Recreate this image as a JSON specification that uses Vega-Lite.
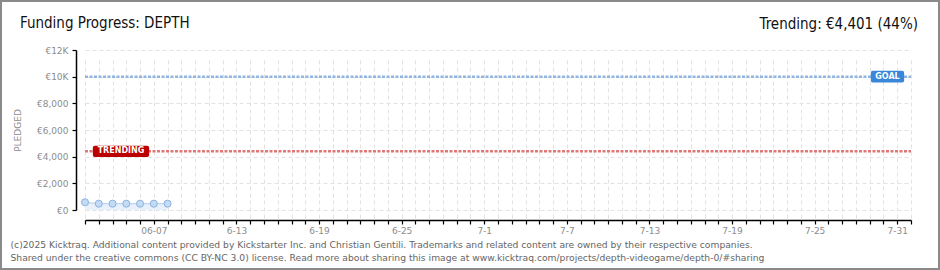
{
  "$schema": "https://vega.github.io/schema/vega-lite/v6.json",
  "width": 940,
  "height": 270,
  "autosize": {"type": "none"},
  "padding": 0,
  "background": "white",
  "config": {
    "view": {"stroke": "#8a8a8a", "strokeWidth": 4},
    "axis": {"labelFont": "DejaVu Sans", "titleFont": "DejaVu Sans"}
  },
  "title": {
    "text": "Funding Progress: DEPTH",
    "anchor": "start",
    "frame": "group",
    "orient": "top",
    "offset": -30,
    "dx": 20,
    "dy": 13,
    "font": "DejaVu Sans Condensed, Liberation Sans Narrow, DejaVu Sans",
    "fontSize": 15,
    "fontWeight": "normal",
    "color": "#111111",
    "baseline": "alphabetic"
  },
  "datasets": {
    "pledges": [
      {"date": "2025-06-02T00:00:00", "pledged": 580},
      {"date": "2025-06-03T00:00:00", "pledged": 475},
      {"date": "2025-06-04T00:00:00", "pledged": 475},
      {"date": "2025-06-05T00:00:00", "pledged": 475},
      {"date": "2025-06-06T00:00:00", "pledged": 475},
      {"date": "2025-06-07T00:00:00", "pledged": 475},
      {"date": "2025-06-08T00:00:00", "pledged": 475}
    ],
    "refs": [
      {"label": "GOAL", "value": 10000},
      {"label": "TRENDING", "value": 4401}
    ],
    "note": [
      {"text": "Trending:  €4,401 (44%)"}
    ]
  },
  "layer": [
    {
      "data": {"name": "pledges"},
      "mark": {"type": "area", "fill": "#e8f0fb", "opacity": 1},
      "encoding": {
        "x": {
          "field": "date",
          "type": "temporal",
          "scale": {
            "domain": [
              {"year": 2025, "month": 6, "date": 2},
              {"year": 2025, "month": 8, "date": 1}
            ],
            "range": [85, 911]
          },
          "axis": {
            "orient": "bottom",
            "offset": -50,
            "tickCount": {"interval": "day", "step": 1},
            "grid": true,
            "gridColor": "#e2e2e2",
            "gridDash": [4, 3],
            "gridWidth": 1,
            "domain": true,
            "domainColor": "#000000",
            "domainWidth": 1.5,
            "ticks": true,
            "tickColor": "#000000",
            "tickSize": 4,
            "tickWidth": 1.2,
            "labelFontSize": 9,
            "labelColor": "#8c8c8c",
            "labelPadding": 2,
            "labelOverlap": false,
            "labelFlush": false,
            "labelExpr": "(month(datum.value)==5 && date(datum.value)==7) ? '06-07' : ((month(datum.value)==5 && indexof([13,19,25], date(datum.value))>=0) || (month(datum.value)==6 && indexof([1,7,13,19,25,31], date(datum.value))>=0)) ? (month(datum.value)+1) + '-' + date(datum.value) : ''",
            "title": [
              "(c)2025 Kicktraq. Additional content provided by Kickstarter Inc. and Christian Gentili. Trademarks and related content are owned by their respective companies.",
              "Shared under the creative commons (CC BY-NC 3.0) license. Read more about sharing this image at www.kicktraq.com/projects/depth-videogame/depth-0/#sharing"
            ],
            "titleX": 10,
            "titleY": 27,
            "titleAlign": "left",
            "titleAnchor": "start",
            "titleBaseline": "alphabetic",
            "titleLineHeight": 13,
            "titleFont": "DejaVu Sans",
            "titleFontSize": 9.2,
            "titleFontWeight": "normal",
            "titleColor": "#666666"
          }
        },
        "y": {
          "field": "pledged",
          "type": "quantitative",
          "scale": {"domain": [0, 12000], "range": [210, 50], "nice": false, "zero": true},
          "axis": {
            "orient": "left",
            "offset": -76,
            "values": [0, 1000, 2000, 3000, 4000, 5000, 6000, 7000, 8000, 9000, 10000, 11000, 12000],
            "grid": true,
            "gridColor": "#e2e2e2",
            "gridDash": [4, 3],
            "gridWidth": 1,
            "domain": true,
            "domainColor": "#000000",
            "domainWidth": 1.5,
            "ticks": true,
            "tickColor": {"condition": {"test": "datum.value % 2000 != 0", "value": "#e00000"}, "value": "#000000"},
            "tickSize": 4,
            "tickWidth": 1.2,
            "labelFontSize": 9,
            "labelColor": "#8c8c8c",
            "labelPadding": 4,
            "labelExpr": "datum.value == 12000 ? '€12K' : datum.value == 10000 ? '€10K' : datum.value % 2000 == 0 ? '€' + format(datum.value, ',') : ''",
            "title": "PLEDGED",
            "titleX": -54,
            "titleFontSize": 9,
            "titleFontWeight": "normal",
            "titleColor": "#8c8c8c"
          }
        }
      }
    },
    {
      "data": {"name": "pledges"},
      "mark": {"type": "line", "stroke": "#b3cdee", "strokeWidth": 1},
      "encoding": {
        "x": {"field": "date", "type": "temporal"},
        "y": {"field": "pledged", "type": "quantitative"}
      }
    },
    {
      "data": {"name": "pledges"},
      "mark": {"type": "point", "filled": true, "fill": "#c4dbf6", "stroke": "#8db1de", "strokeWidth": 1, "size": 50, "opacity": 1},
      "encoding": {
        "x": {"field": "date", "type": "temporal"},
        "y": {"field": "pledged", "type": "quantitative"}
      }
    },
    {
      "data": {"name": "refs"},
      "transform": [{"filter": "datum.label == 'GOAL'"}],
      "mark": {"type": "rule", "stroke": "#93b5e2", "strokeWidth": 2.5, "strokeDash": [3, 1.5]},
      "encoding": {
        "x": {"datum": {"year": 2025, "month": 6, "date": 2}, "type": "temporal"},
        "x2": {"datum": {"year": 2025, "month": 8, "date": 1}},
        "y": {"field": "value", "type": "quantitative"}
      }
    },
    {
      "data": {"name": "refs"},
      "transform": [{"filter": "datum.label == 'TRENDING'"}],
      "mark": {"type": "rule", "stroke": "#df7777", "strokeWidth": 2.5, "strokeDash": [3, 1.5]},
      "encoding": {
        "x": {"datum": {"year": 2025, "month": 6, "date": 2}, "type": "temporal"},
        "x2": {"datum": {"year": 2025, "month": 8, "date": 1}},
        "y": {"field": "value", "type": "quantitative"}
      }
    },
    {
      "data": {"name": "refs"},
      "transform": [{"filter": "datum.label == 'GOAL'"}],
      "mark": {
        "type": "point",
        "filled": true,
        "fill": "#3a86d8",
        "strokeWidth": 0,
        "opacity": 1,
        "size": 1110,
        "shape": "M-0.88,-0.35 H0.88 Q1,-0.35 1,-0.23 V0.23 Q1,0.35 0.88,0.35 H-0.88 Q-1,0.35 -1,0.23 V-0.23 Q-1,-0.35 -0.88,-0.35 Z"
      },
      "encoding": {
        "x": {"datum": {"year": 2025, "month": 7, "date": 30, "hours": 7}, "type": "temporal"},
        "y": {"field": "value", "type": "quantitative"}
      }
    },
    {
      "data": {"name": "refs"},
      "transform": [{"filter": "datum.label == 'GOAL'"}],
      "mark": {"type": "text", "color": "white", "font": "DejaVu Sans", "fontSize": 8, "fontWeight": "bold", "align": "center", "baseline": "middle"},
      "encoding": {
        "x": {"datum": {"year": 2025, "month": 7, "date": 30, "hours": 7}, "type": "temporal"},
        "y": {"field": "value", "type": "quantitative"},
        "text": {"field": "label"}
      }
    },
    {
      "data": {"name": "refs"},
      "transform": [{"filter": "datum.label == 'TRENDING'"}],
      "mark": {
        "type": "point",
        "filled": true,
        "fill": "#bb0000",
        "strokeWidth": 0,
        "opacity": 1,
        "size": 3170,
        "shape": "M-0.93,-0.2 H0.93 Q1,-0.2 1,-0.13 V0.13 Q1,0.2 0.93,0.2 H-0.93 Q-1,0.2 -1,0.13 V-0.13 Q-1,-0.2 -0.93,-0.2 Z"
      },
      "encoding": {
        "x": {"datum": {"year": 2025, "month": 6, "date": 4, "hours": 14, "minutes": 45}, "type": "temporal"},
        "y": {"field": "value", "type": "quantitative"}
      }
    },
    {
      "data": {"name": "refs"},
      "transform": [{"filter": "datum.label == 'TRENDING'"}],
      "mark": {"type": "text", "color": "white", "font": "DejaVu Sans", "fontSize": 8, "fontWeight": "bold", "align": "center", "baseline": "middle"},
      "encoding": {
        "x": {"datum": {"year": 2025, "month": 6, "date": 4, "hours": 14, "minutes": 45}, "type": "temporal"},
        "y": {"field": "value", "type": "quantitative"},
        "text": {"field": "label"}
      }
    },
    {
      "data": {"name": "note"},
      "mark": {"type": "text", "color": "#111111", "font": "DejaVu Sans Condensed, Liberation Sans Narrow, DejaVu Sans", "fontSize": 15, "align": "right", "baseline": "alphabetic", "dx": 7, "dy": -21},
      "encoding": {
        "x": {"datum": {"year": 2025, "month": 8, "date": 1}, "type": "temporal"},
        "y": {"datum": 12000, "type": "quantitative"},
        "text": {"field": "text"}
      }
    }
  ]
}
